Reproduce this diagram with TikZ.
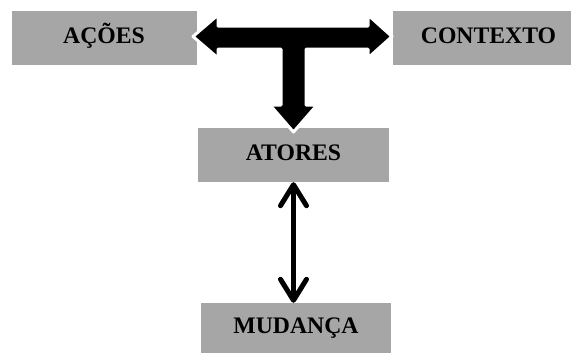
\documentclass[tikz,border=0pt]{standalone}
\usepackage{fontspec}
\setmainfont{Liberation Serif}
\usetikzlibrary{arrows.meta}
\definecolor{boxgray}{HTML}{A6A6A6}
\tikzset{
  box/.style={fill=boxgray, draw=none, inner sep=0pt, font=\fontsize{23.7}{28}\selectfont\bfseries, text=black,
    text height=15.7pt, text depth=4.5pt},
  bigarrow/.style={fill=black, draw=white, line width=3pt, line join=round},
  dbl/.style={line width=5pt, {Straight Barb[length=21pt, width=26pt, round]}-{Straight Barb[length=21pt, width=26pt, round]}}
}
\begin{document}
\begin{tikzpicture}[x=1pt, y=-1pt]
\useasboundingbox (0,0) rectangle (571,354);
\node[box, minimum width=185pt, minimum height=54pt] (acoes) at (104,38) {AÇÕES};
\node[box, minimum width=191pt, minimum height=54pt] (contexto) at (488.5,38) {CONTEXTO};
\node[box, minimum width=191pt, minimum height=54pt] (atores) at (293.5,155) {ATORES};
\node[box, minimum width=190pt, minimum height=50pt] (mudanca) at (296,328) {MUDANÇA};
\draw[bigarrow] (193,36.5) -- (218,15) -- (218,26) -- (368,26) -- (368,15) -- (392,36.5) -- (368,58) -- (368,49)
  -- (306,49) -- (306,105) -- (317,105) -- (293.5,132) -- (270,105) -- (281,105) -- (281,49) -- (218,49) -- (218,58) -- cycle;
\draw[dbl] (atores.south) -- (atores.south |- mudanca.north);
\end{tikzpicture}
\end{document}
